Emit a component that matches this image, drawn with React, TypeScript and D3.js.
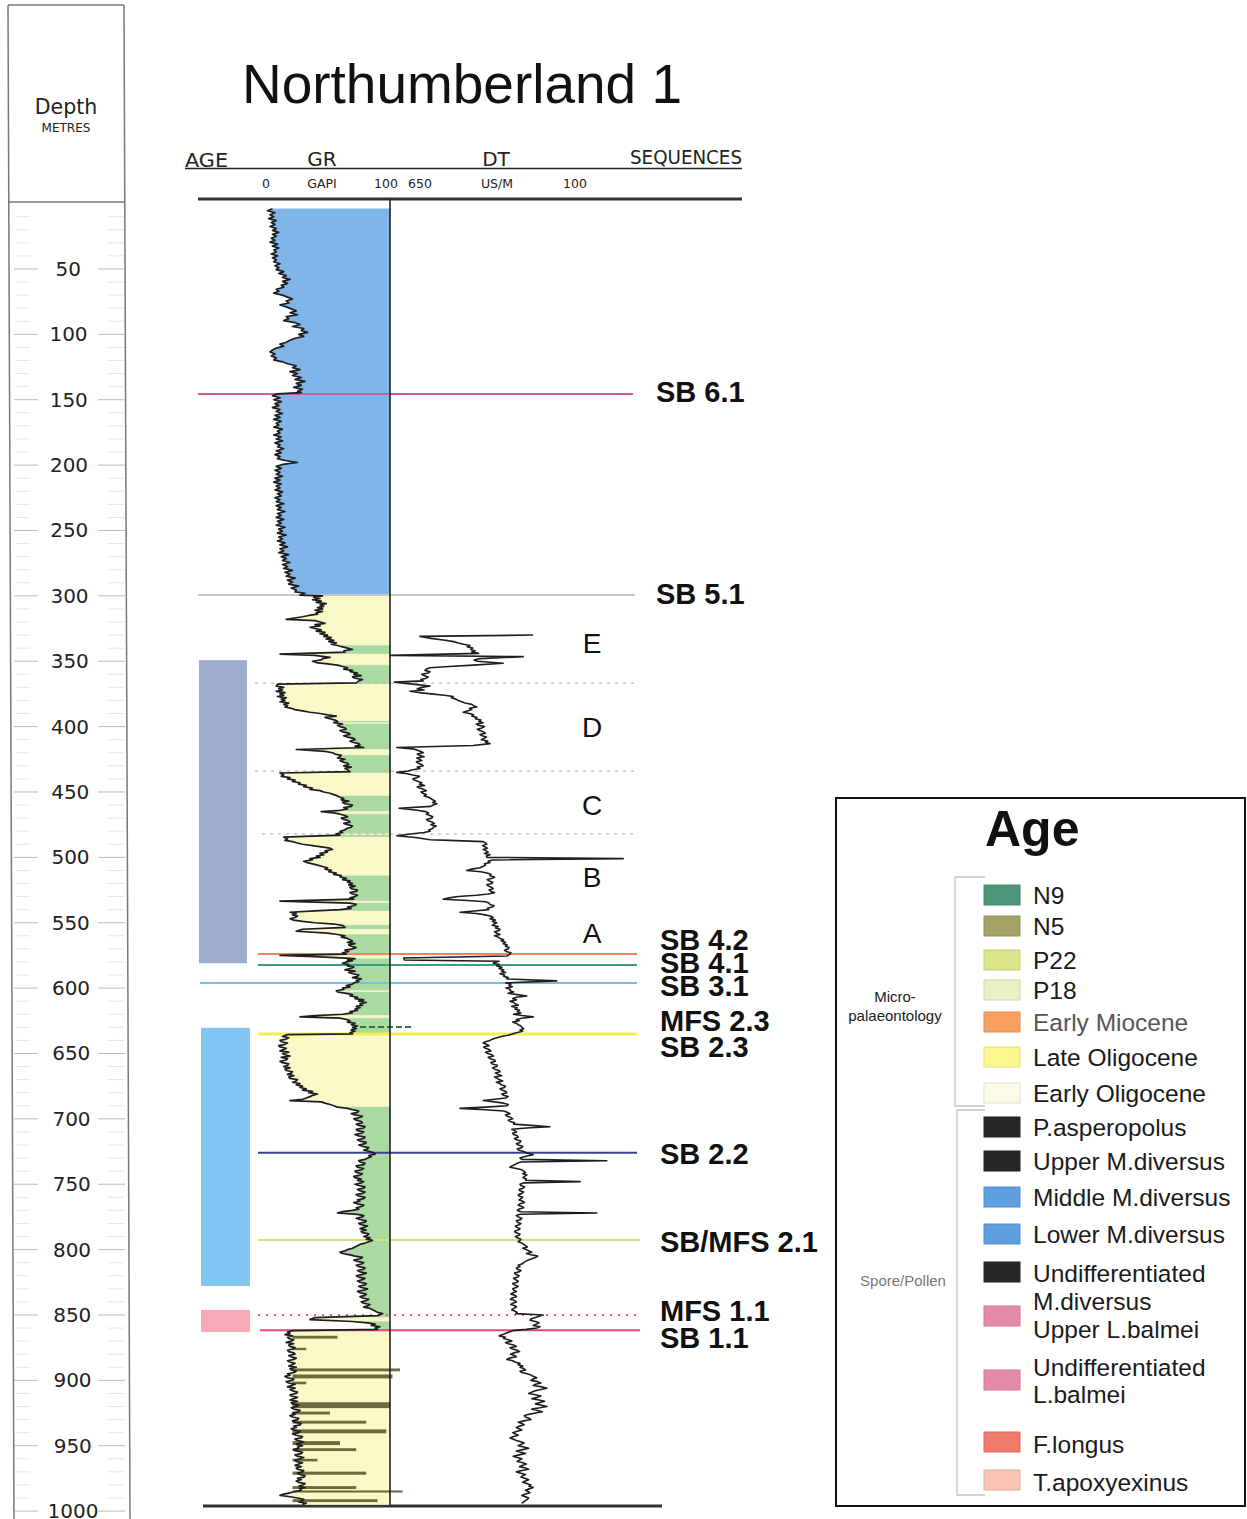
import React from 'react';
import * as d3 from 'd3';

// ---------------- DATA ----------------
const depthTicks = [50, 100, 150, 200, 250, 300, 350, 400, 450, 500, 550, 600, 650, 700, 750, 800, 850, 900, 950, 1000];

// Gamma ray log: [depth m, GR gAPI]
const grLog: [number, number][] = [
  [4,6],[5.5,2],[7,8],[8.5,4],[10,7],[11.5,3],[13,9],[14.5,5],[16,8],[17.5,4],[19,9],[20.5,6],[22,11],[23.5,6],[25,9],[26.5,5],[28,8],[29.5,4],[31,10],[32.5,6],[34,11],[35.5,7],[37,9],[38.5,5],[40,10],[41.5,6],[43,9],[44.5,7],[46,12],[47.5,8],[49,11],[50.5,9],[52,15],[53.5,11],[55,17],[56.5,14],[58,20],[59.5,14],[61,18],[62.5,13],[64,15],[65.5,9],[67,11],[68.5,7],[70,14],[71.5,18],[73,22],[74.5,17],[76,19],[77.5,12],[79,17],[80.5,21],[82,25],[83.5,20],[85,26],[86.5,17],[88,19],[89.5,15],[91,24],[92.5,28],[94,22],[95.5,31],[97,29],[98.5,34],[100,27],[101.5,31],[103,24],[104.5,20],[106,17],[107.5,12],[109,15],[110.5,9],[112,6],[113.5,4],[115,8],[116.5,5],[118,9],[119.5,7],[121,14],[122.5,18],[124,25],[125.5,22],[127,28],[128.5,20],[130,26],[131.5,22],[133,29],[134.5,24],[136,32],[137.5,25],[139,29],[140.5,23],[142,30],[143.5,26],[144.5,29],
  [145.5,10],[147,6],[148.5,12],[150,7],[151.5,13],[153,8],[154.5,11],[156,6],[157.5,12],[159,9],[160.5,14],[162,8],[163.5,12],[165,7],[166.5,13],[168,9],[169.5,11],[171,7],[172.5,14],[174,10],[175.5,12],[177,7],[178.5,13],[180,9],[181.5,14],[183,8],[184.5,12],[186,10],[187.5,15],[189,9],[190.5,13],[192,8],[193.5,12],[195,10],[196.5,16],[198,26],[199.5,14],[201,9],[202.5,13],[204,8],[205.5,12],[207,9],[208.5,14],[210,8],[211.5,12],[213,7],[214.5,13],[216,9],[217.5,12],[219,8],[220.5,14],[222,10],[223.5,13],[225,8],[226.5,12],[228,9],[229.5,15],[231,9],[232.5,13],[234,10],[235.5,16],[237,10],[238.5,13],[240,9],[241.5,15],[243,10],[244.5,13],[246,9],[247.5,16],[249,11],[250.5,14],[252,10],[253.5,17],[255,11],[256.5,14],[258,10],[259.5,16],[261,12],[262.5,18],[264,12],[265.5,15],[267,11],[268.5,19],[270,13],[271.5,17],[273,14],[274.5,20],[276,14],[277.5,18],[279,15],[280.5,22],[282,16],[283.5,20],[285,17],[286.5,24],[288,18],[289.5,22],[291,19],[292.5,27],[294,21],[295.5,25],[297,24],[298,32],[299.4,28],
  [300,46],[301,39],[302,44],[303,38],[304,45],[305,41],[306,49],[307,44],[308,47],[309,42],[310,46],[311,40],[312,46],[313,41],[314,42],[315,35],[316,30],[318,17],[319,40],[320,44],[321,48],[322,40],[323,44],[324,36],[325,40],[326,45],[327,41],[328,48],[329,44],[330,50],[331,47],[332,53],[333,49],[334,55],[335,51],[336,57],[337,53],[338,58],[339,62],[340,66],[341,70],[342,63],[343,64],[344.5,12],[345.5,40],[347,52],[348,46],[349,45],[350,38],[351,41],[352,50],[353,58],[354,62],[355,66],[356,63],[357,70],[358,68],[359,74],[360,71],[361,77],[362,70],[363,72],[364,78],[365,75],[366.5,73],[367.5,10],[369,9],[370,15],[371,11],[372,14],[373,9],[374,16],[375,12],[376,15],[377,10],[378,17],[379,13],[380,16],[381,12],[382,19],[383,15],[384,18],[385,16],[386,21],[387,24],[388,30],[389,36],[390,44],[391,50],[392,57],[393,48],[394,52],[395,56],[396,58],[397,55],[398,62],[399,58],[400,60],[401,64],[402,65],[403,60],[404,62],[405,67],[406,68],[407,63],[408,66],[409,71],[410,72],[411,68],[412,70],[413,75],[414,76],[415,72],[416,79],[417.5,25],[419,48],[420,54],[421,56],[422,61],[423,60],[424,58],[425,64],[426,60],[427,62],[428,66],[429,67],[430,63],[431,69],[432,64],[433,66],[434.5,68],[435.5,12],[437,15],[438,13],[439,20],[440,18],[441,24],[442,22],[443,28],[444,27],[445,33],[446,31],[447,38],[448,36],[449,44],[450,47],[451,52],[452,55],[453,58],[454,60],[455,63],[456,61],[457,67],[458,62],[459,64],[460,70],[461,69],[462,63],[463,66],[464,60],[465,45],[466,55],[467,60],[468,64],[469,66],[470,61],[471,63],[472,67],[473,68],[474,63],[475,66],[476,70],[477,69],[478,65],[479,64],[480,60],[481,62],[482,57],[483,60],[484.5,15],[486,18],[487,16],[488,22],[489,26],[490,30],[491,38],[492,45],[493,52],[494,54],[495,48],[496,50],[497,44],[498,47],[499,41],[500,44],[501,36],[502,38],[503,31],[504,34],[505,38],[506,42],[507,46],[508,50],[509,48],[510,53],[511,51],[512,57],[513,55],[514,61],[515,60],[516,65],[517,62],[518,68],[519,66],[520,70],[521,67],[522,72],[523,68],[524,69],[525,74],[526,73],[527,68],[528,70],[529,74],[530,72],[531,68],[532,71],[533.5,12],[535,68],[536,73],[537,71],[538,66],[539,69],[540,60],[541,40],[542,20],[543,25],[544,22],[545,26],[546,24],[547,20],[548,23],[549,30],[550,40],[551,55],[552,62],[553.5,64],[555,30],[556.5,25],[558,50],[559,58],[560,64],[561,61],[562,66],[563,68],[564,70],[565,66],[566,72],[567,67],[568,69],[569,73],[570,70],[571,64],[572,67],[573,62],[574,65],[575,12],
  [576,40],[577.5,72],[578.5,66],[579,70],[580,65],[581,62],[582,67],[583,66],[584,71],[585,68],[586,64],[587,72],[588,67],[589,70],[590,75],[591,74],[592,70],[593,77],[594,73],[595,75],[596,71],[597,70],[598,65],[599,68],[600,62],[601,63],[602,57],[603,58],[604,65],[605,70],[606,68],[607,74],[608,72],[609,79],[610,75],[611,81],[612,76],[613,78],[614,73],[615,76],[616,72],[617,74],[618,68],[619,70],[620,62],[621,40],[622,28],[623,60],[624,65],[625,68],[626,66],[627,72],[628,69],[629,74],[630,70],[631,73],[632,69],[633,72],[634,68],[635,70],[635.6,18],
  [637,14],[638,19],[639,17],[640,12],[641,13],[642,18],[643,16],[644,11],[645,12],[646,17],[647,15],[648,12],[649,19],[650,14],[651,16],[652,20],[653,13],[654,18],[655,17],[656,12],[657,14],[658,19],[659,18],[660,15],[661,20],[662,16],[663,17],[664,22],[665,21],[666,18],[667,23],[668,19],[669,20],[670,26],[671,25],[672,22],[673,28],[674,25],[675,30],[676,28],[677,33],[678,30],[679,38],[680,35],[681,42],[682,38],[683,36],[684,33],[685,30],[686,20],[687,45],[688,48],[689,52],[690,55],[691,58],[692,66],[693,70],[694,75],[695,74],[696,69],[697,72],[698,78],[699,76],[700,71],[701,73],[702,77],[703,78],[704,73],[705,75],[706,80],[707,79],[708,73],[709,74],[710,79],[711,77],[712,72],[713,75],[714,80],[715,79],[716,74],[717,76],[718,81],[719,80],[720,75],[721,78],[722,83],[723,82],[724,79],[725,84],[726,87],[727,88],[728,83],[729,85],[730,82],[731,80],[732,75],[733,76],[734,80],[735,79],[736,73],[737,74],[738,79],[739,77],[740,72],[741,73],[742,78],[743,76],[744,71],[745,72],[746,77],[747,74],[748,79],[749,77],[750,72],[751,75],[752,80],[753,79],[754,74],[755,76],[756,80],[757,78],[758,73],[759,75],[760,80],[761,79],[762,74],[763,76],[764,71],[765,74],[766,79],[767,77],[768,73],[769,75],[770,70],[771,62],[772,58],[773,74],[774,79],[775,78],[776,73],[777,76],[778,81],[779,80],[780,75],[781,77],[782,82],[783,79],[784,76],[785,81],[786,77],[787,78],[788,83],[789,82],[790,79],[791,84],[792,81],[793,86],[794,83],[795,80],[796,76],[797,74],[798,72],[799,70],[800,66],[801,64],[802,60],[803,62],[804,68],[805,72],[806,78],[807,76],[808,71],[809,74],[810,79],[811,77],[812,73],[813,75],[814,80],[815,79],[816,74],[817,76],[818,81],[819,78],[820,73],[821,75],[822,80],[823,78],[824,74],[825,76],[826,81],[827,80],[828,75],[829,77],[830,82],[831,79],[832,74],[833,76],[834,81],[835,80],[836,76],[837,78],[838,83],[839,81],[840,77],[841,79],[842,84],[843,82],[844,79],[845,84],[846,86],[847,88],[848,90],[849,94],[850.5,90],[852,40],[853.5,36],[855,70],[856,82],[857,88],[858,85],[859,92],[860,88],[861,90],[862,22],
  [863,18],[864,20],[865,16],[866,22],[867,18],[868,19],[869,23],[870,21],[871,17],[872,23],[873,19],[874,20],[875,24],[876,22],[877,18],[878,19],[879,23],[880,24],[881,19],[882,21],[883,25],[884,23],[885,18],[886,20],[887,24],[888,22],[889,19],[890,25],[891,20],[892,21],[893,25],[894,23],[895,18],[896,20],[897,16],[898,18],[899,23],[900,22],[901,17],[902,19],[903,24],[904,21],[905,18],[906,24],[907,20],[908,22],[909,26],[910,25],[911,20],[912,21],[913,26],[914,23],[915,20],[916,26],[917,21],[918,22],[919,27],[920,25],[921,21],[922,23],[923,28],[924,27],[925,22],[926,24],[927,20],[928,22],[929,27],[930,26],[931,22],[932,24],[933,29],[934,28],[935,23],[936,25],[937,21],[938,23],[939,28],[940,27],[941,22],[942,25],[943,30],[944,29],[945,24],[946,26],[947,31],[948,28],[949,25],[950,30],[951,26],[952,27],[953,23],[954,25],[955,30],[956,29],[957,24],[958,26],[959,31],[960,28],[961,24],[962,25],[963,30],[964,27],[965,24],[966,29],[967,25],[968,26],[969,31],[970,30],[971,26],[972,28],[973,32],[974,31],[975,26],[976,29],[977,25],[978,27],[979,32],[980,30],[981,27],[982,32],[983,28],[984,29],[985,24],[986,20],[987,15],[988,12],[989,20],[990,26],[991,31],[992,30],[993,27],[994,33],[995,30]
];

// Sonic log: [depth m, DT us/m]
const dtLog: [number, number][] = [
  [330,335],[331,584],[332.5,560],[334,529],[335,510],[336,500],[337,488],[338,474],[339,480],[340,468],[341,472],[342,463],[343,470],[344,455],[345.5,650],[346.5,357],[348,452],[349,465],[350,458],[351.5,401],[353,467],[354,520],[355,562],[356,570],[357,573],[358,562],[359,566],[360,580],[361,575],[362,566],[363,570],[364,582],[365,577],[366,640],[367.5,600],[369,562],[370,580],[371,590],[372,575],[373,606],[374,585],[375,560],[376,530],[377,511],[378,515],[379,505],[380,500],[381,492],[382,485],[383,470],[384,466],[385,459],[386,475],[387,470],[388,480],[389,489],[390,475],[391,466],[392,470],[393,459],[394,462],[395,450],[396,455],[397,445],[398,460],[399,455],[400,442],[401,448],[402,458],[403,452],[404,445],[405,440],[406,452],[407,447],[408,438],[409,443],[410,449],[411,435],[412,440],[413,430],[414.5,467],[416,635],[417,600],[418,590],[419,582],[420,577],[421,590],[422,585],[423,575],[424,591],[425,585],[426,580],[427,592],[428,588],[429,580],[430,577],[431,590],[432,584],[433,600],[434,610],[435,635],[436,612],[437,600],[438,585],[439,590],[440,600],[441,595],[442,588],[443,580],[444,585],[445,574],[446,590],[447,585],[448,576],[449,570],[450,582],[451,578],[452,570],[453,575],[454,565],[455,560],[456,556],[457,550],[458,556],[459,547],[460,555],[461,560],[462.5,630],[464,590],[465,572],[466,565],[467,570],[468,562],[469,556],[470,558],[471,570],[472,566],[473,558],[474,552],[475,560],[476,548],[477,555],[478,556],[479,565],[480,562],[481,575],[482,600],[483.5,635],[485,590],[486.5,562],[487,520],[488,445],[489,440],[490,437],[491,446],[492,441],[493,436],[494,445],[495,438],[496,434],[497,442],[498,430],[499,438],[500,437],[501,137],[502,425],[503,434],[504,430],[505,442],[506,440],[507,446],[508,452],[509,470],[510,481],[511,450],[512,437],[513,428],[514,430],[515,420],[516,425],[517,436],[518,432],[519,424],[520,426],[521,437],[522,433],[523,426],[524,423],[525,432],[526,428],[527,420],[528,434],[529,460],[530,500],[531,520],[532,533],[533,480],[534,440],[535,432],[536,430],[537,421],[538,425],[539,436],[540,433],[541,465],[542,496],[543,460],[544,440],[545,428],[546,423],[547,430],[548,418],[549,425],[550,415],[551,421],[552,425],[553,412],[554,418],[555,408],[556,410],[557,420],[558,415],[559,408],[560,420],[561,412],[562,408],[563,400],[564,405],[565,396],[566,401],[567,392],[568,396],[569,388],[570,390],[571,398],[572,394],[573,384],[574,386],[575.5,393],[577,620],[578.5,618],[579.5,410],[580,416],[581,423],[582,410],[583,415],[584,404],[585,410],[586,400],[587,405],[588,396],[589,408],[590,398],[591,400],[592,390],[593,393],[594.5,283],[596,395],[597,384],[598,388],[599,381],[600,395],[601,385],[602,386],[603,378],[604,390],[605,370],[606,349],[607,372],[608,380],[609,372],[610,386],[611,378],[612,375],[613,368],[614,382],[615,370],[616,375],[617,365],[618,370],[619,362],[620,378],[621,360],[622,335],[623,360],[624,372],[625,366],[626,380],[627,372],[628,368],[629,362],[630,360],[631,356],[632,364],[633,358],[634,370],[635,380],[636,390],[637,405],[638,415],[639,424],[640,430],[641,440],[642,445],[643,438],[644,432],[645,444],[646,440],[647,432],[648,428],[649,440],[650,435],[651,426],[652,422],[653,434],[654,430],[655,420],[656,418],[657,428],[658,425],[659,414],[660,415],[661,424],[662,420],[663,410],[664,408],[665,418],[666,412],[667,404],[668,420],[669,414],[670,410],[671,402],[672,416],[673,408],[674,405],[675,396],[676,398],[677,408],[678,404],[679,395],[680,393],[681,404],[682,400],[683,390],[684,395],[685,420],[686,445],[687,420],[688,400],[689,390],[690,392],[691,440],[692,496],[693,440],[694,400],[695,392],[696,386],[697,396],[698,392],[699,384],[700,380],[701,390],[702,386],[703,376],[704,378],[705,340],[706,298],[707,350],[708,382],[709,376],[710,372],[711,380],[712,378],[713,370],[714,368],[715,376],[716,372],[717,362],[718,364],[719,372],[720,368],[721,358],[722,360],[723,370],[724,366],[725,356],[726,350],[727.5,335],[729,355],[730,364],[731,360],[732,173],[733,362],[734,370],[735,375],[736,382],[737,386],[738,372],[739,360],[740,356],[741,352],[742,358],[743,349],[744,354],[745,357],[746,350],[747,352],[748,232],[749,356],[750,364],[751,362],[752,354],[753,357],[754,366],[755,364],[756,356],[757,360],[758,368],[759,366],[760,358],[761,362],[762,366],[763,358],[764,354],[765,364],[766,368],[767,360],[768,356],[769,366],[770,370],[771,362],[772,195],[773,364],[774,372],[775,368],[776,360],[777,362],[778,372],[779,370],[780,362],[781,366],[782,374],[783,371],[784,364],[785,368],[786,376],[787,374],[788,364],[789,366],[790,374],[791,370],[792,362],[793,364],[794,368],[795,360],[796,356],[797,352],[798,348],[799,358],[800,350],[801,344],[802,338],[803,350],[804,340],[805,325],[806,330],[807,338],[808,345],[809,352],[810,356],[811,360],[812,368],[813,364],[814,372],[815,370],[816,362],[817,366],[818,376],[819,373],[820,366],[821,369],[822,378],[823,374],[824,368],[825,370],[826,380],[827,376],[828,368],[829,372],[830,380],[831,378],[832,372],[833,379],[834,384],[835,375],[836,372],[837,381],[838,385],[839,376],[840,372],[841,380],[842,384],[843,375],[844,372],[845,378],[846,382],[847,376],[848,370],[849,373],[850,313],[851,322],[852,330],[853,340],[854,342],[855,330],[856,322],[857,328],[858,335],[859,320],[860,327],[861,350],[862,380],[863,388],[864,395],[865,402],[866,410],[867,396],[868,400],[869,390],[870,382],[871,396],[872,390],[873,378],[874,372],[875,386],[876,380],[877,370],[878,365],[879,378],[880,385],[881,376],[882,372],[883,388],[884,393],[885,380],[886,375],[887,364],[888,368],[889,358],[890,364],[891,356],[892,352],[893,364],[894,360],[895,348],[896,340],[897,334],[898,327],[899,335],[900,340],[901,325],[902,318],[903,330],[904,335],[905,316],[906,305],[907,318],[908,330],[909,338],[910,345],[911,330],[912,318],[913,326],[914,338],[915,322],[916,310],[917,320],[918,330],[919,316],[920,305],[921,320],[922,338],[923,325],[924,315],[925,330],[926,345],[927,355],[928,352],[929,344],[930,340],[931,355],[932,368],[933,360],[934,355],[935,365],[936,372],[937,366],[938,360],[939,370],[940,380],[941,374],[942,368],[943,378],[944,386],[945,378],[946,372],[947,362],[948,355],[949,362],[950,368],[951,356],[952,345],[953,358],[954,372],[955,362],[956,352],[957,366],[958,379],[959,370],[960,360],[961,366],[962,370],[963,358],[964,350],[965,358],[966,365],[967,352],[968,345],[969,360],[970,372],[971,362],[972,352],[973,358],[974,362],[975,352],[976,345],[977,352],[978,358],[979,348],[980,340],[981,344],[982,335],[983,344],[984,352],[985,346],[986,342],[987,352],[988,360],[989,352],[990,345],[991,348],[992,352],[993,356],[994,360]
];

// Carbonaceous streaks below SB 1.1: [depth m, GR reached, thickness m]
const streaks: [number, number, number][] = [
  [867,58,2.2],[876,33,1.8],[892,108,2.2],[897,102,3],[902,33,2],[919,100,4.5],[925,52,2.2],[932,81,2.2],[939,97,3],[948,60,3],[953,73,2.2],[961,42,2],[971,81,2.4],[982,73,2.2],[985,110,1.6],[992,90,2.2]
];

const boundaryNames = ['SB 6.1', 'SB 5.1', 'SB 4.2', 'SB 4.1', 'SB 3.1', 'MFS 2.3', 'SB 2.3', 'SB 2.2', 'SB/MFS 2.1', 'MFS 1.1', 'SB 1.1'];
const boundaryDepths = [145.6, 299.4, 574, 582.3, 596.1, 629.8, 635.1, 726, 792.6, 850.1, 861.6];
const boundaryLabelDepths = [144.1, 298.6, 563.2, 580.8, 598.4, 625.2, 645.1, 726.9, 794.2, 847.0, 867.6];

const subSequenceLetters = ['E', 'D', 'C', 'B', 'A'];
const subSequenceLetterDepths = [336, 400, 460, 515, 558];
const subSequenceBreaks = [366.7, 434, 482];

const ageBarTops = [349.2, 630.4, 846.1];
const ageBarBases = [581, 827.8, 863];

const legendNames = ['N9', 'N5', 'P22', 'P18', 'Early Miocene', 'Late Oligocene', 'Early Oligocene', 'P.asperopolus', 'Upper M.diversus', 'Middle M.diversus', 'Lower M.diversus', 'Undifferentiated\nM.diversus', 'Upper L.balmei', 'Undifferentiated\nL.balmei', 'F.longus', 'T.apoxyexinus'];
const legendGroups = ['Micro-\npalaeontology', 'Spore/Pollen'];

// ---------------- STYLES ----------------
const legendColors = ['#4e9678', '#a3a365', '#dbe68a', '#eaf0c4', '#f7a060', '#fbf78e', '#fafae6', '#262626', '#262626', '#5e9fdf', '#5e9fdf', '#262626', '#e58aa6', '#e58aa6', '#f07b6c', '#f8c4b4'];
const boundaryStyles = [
  { color: '#c4609a', x0: 198, x1: 633, w: 2, dash: '' },
  { color: '#c9c9c9', x0: 198, x1: 635, w: 2, dash: '' },
  { color: '#ef8266', x0: 258, x1: 637, w: 2, dash: '' },
  { color: '#3f9c7c', x0: 258, x1: 637, w: 2, dash: '' },
  { color: '#72c0e6', x0: 200, x1: 637, w: 2, dash: '' },
  { color: '#2f7a3a', x0: 360, x1: 412, w: 2, dash: '6,3' },
  { color: '#f3ef4f', x0: 258, x1: 637, w: 3, dash: '' },
  { color: '#3d3f8f', x0: 258, x1: 637, w: 2, dash: '' },
  { color: '#cce27a', x0: 258, x1: 640, w: 2, dash: '' },
  { color: '#e2607e', x0: 258, x1: 640, w: 2, dash: '2,6' },
  { color: '#e5457f', x0: 260, x1: 640, w: 2, dash: '' },
];
const ageBarColors = ['#9faccf', '#82c5f2', '#f8a9b8'];
const FILL_BLUE = '#7fb5e9';
const FILL_GREEN = '#aad9a1';
const FILL_YELLOW = '#f9f9c8';

const GOTHIC = '"DejaVu Sans", sans-serif';
const ARIAL = '"Liberation Sans", Arial, sans-serif';

export default function App() {
  const y = d3.scaleLinear().domain([0, 1000]).range([203.6, 1511.1]);
  const xGR = d3.scaleLinear().domain([0, 100]).range([265, 390]);
  const xDT = d3.scaleLinear().domain([650, 100]).range([390, 640]);

  const cls = (d: [number, number]) => (d[0] <= 299.4 ? 'blue' : d[1] >= 58 ? 'green' : 'yellow');
  const fillOf: Record<string, string> = { blue: FILL_BLUE, green: FILL_GREEN, yellow: FILL_YELLOW };
  const runs: { c: string; pts: [number, number][] }[] = [];
  let start = 0;
  for (let i = 1; i <= grLog.length; i++) {
    if (i === grLog.length || cls(grLog[i]) !== cls(grLog[start])) {
      runs.push({ c: cls(grLog[start]), pts: grLog.slice(start, Math.min(i + 1, grLog.length)) });
      start = i;
    }
  }
  const area = d3.area<[number, number]>().y(d => y(d[0])).x0(d => xGR(d[1])).x1(xGR(100));
  const grLine = d3.line<[number, number]>().y(d => y(d[0])).x(d => xGR(d[1]));
  const dtLine = d3.line<[number, number]>().y(d => y(d[0])).x(d => xDT(d[1]));

  const minorTicks = d3.range(10, 1001, 10).filter(v => v % 50 !== 0);

  // legend layout
  const swatchY = [895, 926, 960, 990, 1022, 1057, 1093, 1127, 1161, 1197, 1234, 1272, 1316, 1380, 1442, 1480];
  const labelY: number[][] = [[895], [926], [960], [990], [1022], [1057], [1093], [1127], [1161], [1197], [1234], [1273, 1301], [1329], [1367, 1394], [1444], [1482]];

  return (
    <svg width={1247} height={1519} style={{ position: 'absolute', left: 0, top: 0, display: 'block', background: '#fff' }}>
      <rect x={0} y={0} width={1247} height={1519} fill="#fff" />
      {/* depth panel */}
      <line x1={8} y1={5} x2={124} y2={5} stroke="#777" strokeWidth={1.5} />
      <line x1={8} y1={5} x2={14} y2={1519} stroke="#777" strokeWidth={1.5} />
      <line x1={124} y1={5} x2={130} y2={1519} stroke="#777" strokeWidth={1.5} />
      <line x1={9} y1={202} x2={125} y2={202} stroke="#777" strokeWidth={1.5} />
      <text x={66} y={114} textAnchor="middle" fontFamily={GOTHIC} fontSize={20.5} fill="#222">Depth</text>
      <text x={66} y={132} textAnchor="middle" fontFamily={GOTHIC} fontSize={12} fill="#222" textLength={49} lengthAdjust="spacingAndGlyphs">METRES</text>
      {minorTicks.map(t => (
        <g key={'m' + t}>
          <line x1={16} x2={30} y1={y(t)} y2={y(t)} stroke="#e6e6e6" strokeWidth={1} />
          <line x1={108} x2={124} y1={y(t)} y2={y(t)} stroke="#e6e6e6" strokeWidth={1} />
        </g>
      ))}
      {depthTicks.map(t => (
        <g key={t}>
          <line x1={14} x2={38} y1={y(t)} y2={y(t)} stroke="#bbb" strokeWidth={1} />
          <line x1={98} x2={125} y1={y(t)} y2={y(t)} stroke="#bbb" strokeWidth={1} />
          <text x={68 + t * 0.005} y={y(t) + 7} textAnchor="middle" fontFamily={GOTHIC} fontSize={20} fill="#222">{t}</text>
        </g>
      ))}

      {/* title */}
      <text x={242} y={103} fontFamily={ARIAL} fontSize={56} fill="#111" textLength={440} lengthAdjust="spacingAndGlyphs">Northumberland 1</text>

      {/* track header */}
      <text x={185} y={167} fontFamily={GOTHIC} fontSize={20} fill="#222" textLength={43} lengthAdjust="spacingAndGlyphs">AGE</text>
      <text x={322} y={166} textAnchor="middle" fontFamily={GOTHIC} fontSize={20} fill="#222">GR</text>
      <text x={496} y={166} textAnchor="middle" fontFamily={GOTHIC} fontSize={20} fill="#222">DT</text>
      <text x={630} y={164} fontFamily={GOTHIC} fontSize={19} fill="#222" textLength={112} lengthAdjust="spacingAndGlyphs">SEQUENCES</text>
      <line x1={185} x2={742} y1={168.5} y2={168.5} stroke="#222" strokeWidth={1.5} />
      {[['0', 266], ['GAPI', 322], ['100', 386], ['650', 420], ['US/M', 497], ['100', 575]].map(([t, x]) => (
        <text key={t + x} x={x as number} y={188} textAnchor="middle" fontFamily={GOTHIC} fontSize={12.5} fill="#222">{t}</text>
      ))}
      <line x1={198} x2={742} y1={199} y2={199} stroke="#333" strokeWidth={3} />
      <line x1={203} x2={662} y1={1506} y2={1506} stroke="#333" strokeWidth={3} />

      {/* age bars */}
      {ageBarTops.map((t, i) => (
        <rect key={'age' + i} x={199 + (i > 0 ? 2 : 0)} width={i === 0 ? 48 : 49} y={y(t)} height={y(ageBarBases[i]) - y(t)} fill={ageBarColors[i]} />
      ))}

      {/* GR fill */}
      {runs.map((r, i) => (
        <path key={'run' + i} d={area(r.pts) || ''} fill={fillOf[r.c]} stroke={fillOf[r.c]} strokeWidth={0.4} />
      ))}
      {/* streaks */}
      {streaks.map(([d, v, th], i) => (
        <rect key={'st' + i} x={xGR(22)} y={y(d) - (y(th) - y(0)) / 2} width={xGR(v) - xGR(22)} height={y(th) - y(0)} fill="#6e6a3e" />
      ))}

      {/* sub-sequence dotted lines */}
      {subSequenceBreaks.map((d, i) => (
        <line key={'sb' + i} x1={i === 2 ? 262 : 255} x2={635} y1={y(d)} y2={y(d)} stroke="#b9b9b9" strokeWidth={1.3} strokeDasharray="3,5" />
      ))}

      {/* boundaries */}
      {boundaryDepths.map((d, i) => (
        <line key={'b' + i} x1={boundaryStyles[i].x0} x2={boundaryStyles[i].x1} y1={y(d)} y2={y(d)} stroke={boundaryStyles[i].color} strokeWidth={boundaryStyles[i].w} strokeDasharray={boundaryStyles[i].dash || undefined} />
      ))}

      {/* logs */}
      <path d={grLine(grLog) || ''} fill="none" stroke="#1e1e1e" strokeWidth={1.7} strokeLinejoin="round" />
      <path d={dtLine(dtLog) || ''} fill="none" stroke="#1e1e1e" strokeWidth={1.6} strokeLinejoin="round" />
      <line x1={390} x2={390} y1={199} y2={1506} stroke="#222" strokeWidth={1.6} />

      {/* boundary labels */}
      {boundaryNames.map((n, i) => (
        <text key={'bl' + i} x={i < 2 ? 656 : 660} y={y(boundaryLabelDepths[i]) + 10} fontFamily={ARIAL} fontWeight="bold" fontSize={29} fill="#111">{n}</text>
      ))}
      {subSequenceLetters.map((l, i) => (
        <text key={'l' + l} x={592} y={y(subSequenceLetterDepths[i]) + 10} textAnchor="middle" fontFamily={ARIAL} fontSize={28} fill="#111">{l}</text>
      ))}

      {/* legend */}
      <rect x={836} y={798} width={409} height={708} fill="#fff" stroke="#111" strokeWidth={2} />
      <text x={985} y={846} fontFamily={ARIAL} fontWeight="bold" fontSize={50} fill="#111">Age</text>
      <polyline points="985,877 955,877 955,1106 985,1106" fill="none" stroke="#c4c4c4" strokeWidth={1.3} />
      <polyline points="985,1110 957,1110 957,1495 985,1495" fill="none" stroke="#c4c4c4" strokeWidth={1.3} />
      {legendGroups[0].split('\n').map((s, k) => (
        <text key={'g0' + k} x={895} y={1002 + k * 19} textAnchor="middle" fontFamily={ARIAL} fontSize={15} fill="#222">{s}</text>
      ))}
      <text x={903} y={1286} textAnchor="middle" fontFamily={ARIAL} fontSize={15} fill="#777">{legendGroups[1]}</text>
      {legendNames.map((n, i) => (
        <g key={'lg' + i}>
          <rect x={984} y={swatchY[i] - 10} width={36} height={20} fill={legendColors[i]} stroke={d3.color(legendColors[i])?.darker(0.3).toString()} strokeWidth={1} />
          {n.split('\n').map((s, k) => (
            <text key={k} x={1033} y={labelY[i][k] + 8.5} fontFamily={ARIAL} fontSize={24.5} fill={i === 4 ? '#555' : '#1a1a1a'}>{s}</text>
          ))}
        </g>
      ))}
    </svg>
  );
}
